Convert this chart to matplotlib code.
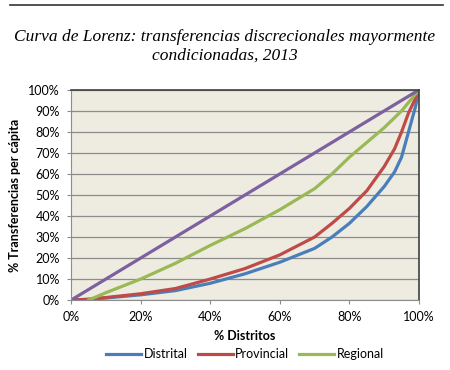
import matplotlib
matplotlib.use("Agg")
import matplotlib.pyplot as plt
from matplotlib.lines import Line2D
from matplotlib.ticker import PercentFormatter

x_dist = [0, 5, 10, 20, 30, 40, 50, 60, 70, 75, 80, 85, 90, 93, 95, 97, 99, 100]
distrital = [0, 0.3, 1, 2.5, 4.5, 8, 12.5, 18, 24.6, 30, 36.5, 44.5, 54, 61, 68, 80, 92, 100]
provincial = [0, 0.4, 1.2, 3, 5.5, 10, 15, 21.5, 30, 36.5, 43.6, 52, 63.5, 72, 80, 89, 96, 100]

x_reg = [5, 10, 20, 30, 40, 50, 60, 70, 75, 80, 85, 90, 95, 100]
regional = [0, 3.5, 10, 17.5, 26, 34, 43, 53, 60, 68, 75, 82, 90, 100]

x_eq = [0, 100]
igualdad = [0, 100]

plt.rcParams['font.family'] = ['Lato', 'DejaVu Sans']

fig = plt.figure(figsize=(4.5, 3.7), dpi=100)
ax = fig.add_axes([0.158, 0.189, 0.773, 0.568])
ax.set_facecolor('#EEEBE0')

ax.plot(x_dist, distrital, color='#4A7EBB', lw=2.3, label='Distrital', solid_joinstyle='round')
ax.plot(x_dist, provincial, color='#BE4B48', lw=2.3, label='Provincial', solid_joinstyle='round')
ax.plot(x_reg, regional, color='#98B954', lw=2.3, label='Regional', solid_joinstyle='round')
ax.plot(x_eq, igualdad, color='#7D60A0', lw=2.3)

ax.set_xlim(0, 100)
ax.set_ylim(0, 100)
ax.set_xticks(range(0, 101, 20))
ax.set_yticks(range(0, 101, 10))
ax.xaxis.set_major_formatter(PercentFormatter(decimals=0))
ax.yaxis.set_major_formatter(PercentFormatter(decimals=0))
ax.grid(axis='y', color='#8C8C8C', lw=0.9)
ax.set_axisbelow(True)
ax.tick_params(labelsize=9, length=3, color='#8C8C8C', pad=5)
for s in ['left', 'bottom']:
    ax.spines[s].set_color('#8C8C8C')
for s in ['top', 'right']:
    ax.spines[s].set_color('#404040')
    ax.spines[s].set_linewidth(1.2)

ax.set_xlabel('% Distritos', fontsize=9, fontweight='bold', labelpad=5)
ax.set_ylabel('% Transferencias per cápita', fontsize=9, fontweight='bold', labelpad=5)

ax.legend(loc='upper center', bbox_to_anchor=(0.5, -0.175), ncol=3, frameon=False,
          fontsize=9, handlelength=2.8, handletextpad=0.2, columnspacing=0.8)

fig.add_artist(Line2D([0.022, 0.985], [0.986, 0.986], color='#333333', lw=1.2))
fig.text(0.5, 0.875, 'Curva de Lorenz: transferencias discrecionales mayormente\ncondicionadas, 2013',
         ha='center', va='center', fontsize=12.5, style='italic',
         family='Liberation Serif', linespacing=1.25)

fig.savefig('out.png', dpi=100)
